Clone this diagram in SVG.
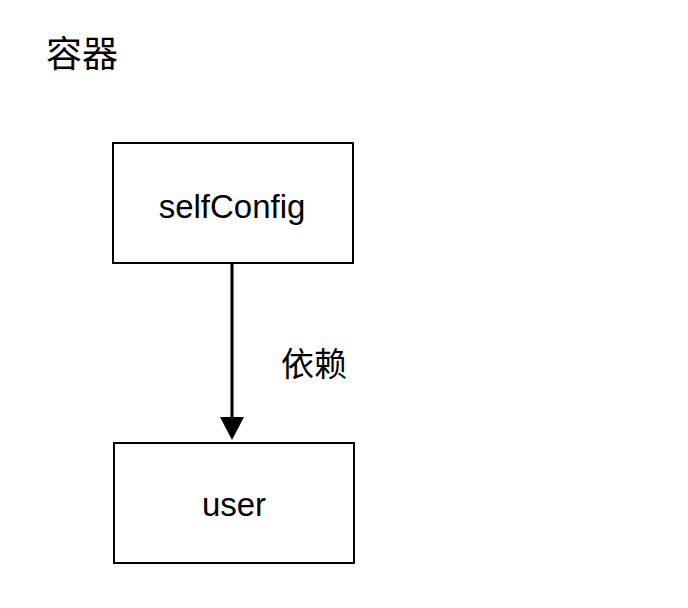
<svg xmlns="http://www.w3.org/2000/svg" width="688" height="608" viewBox="0 0 688 608">
<style>
.box{fill:#fff;stroke:#000;stroke-width:2}
.t{font-family:"Liberation Sans","Noto Sans CJK SC",sans-serif;font-size:33px;fill:#000}
.c{text-anchor:middle}
</style>
<rect width="688" height="608" fill="#fff"/>
<text class="t" x="46" y="67" style="font-size:36px">容器</text>
<g id="selfConfig">
<rect class="box" x="113" y="143" width="240" height="120"/>
<text class="t c" x="232" y="218">selfConfig</text>
</g>
<g id="user">
<rect class="box" x="114" y="443" width="240" height="120"/>
<text class="t c" x="234" y="516">user</text>
</g>
<g id="connectors">
<line x1="232" y1="264" x2="232" y2="420" stroke="#000" stroke-width="3"/>
<polygon points="220,417 244,417 232,440" fill="#000"/>
<text class="t" x="281" y="376">依赖</text>
</g>
</svg>
